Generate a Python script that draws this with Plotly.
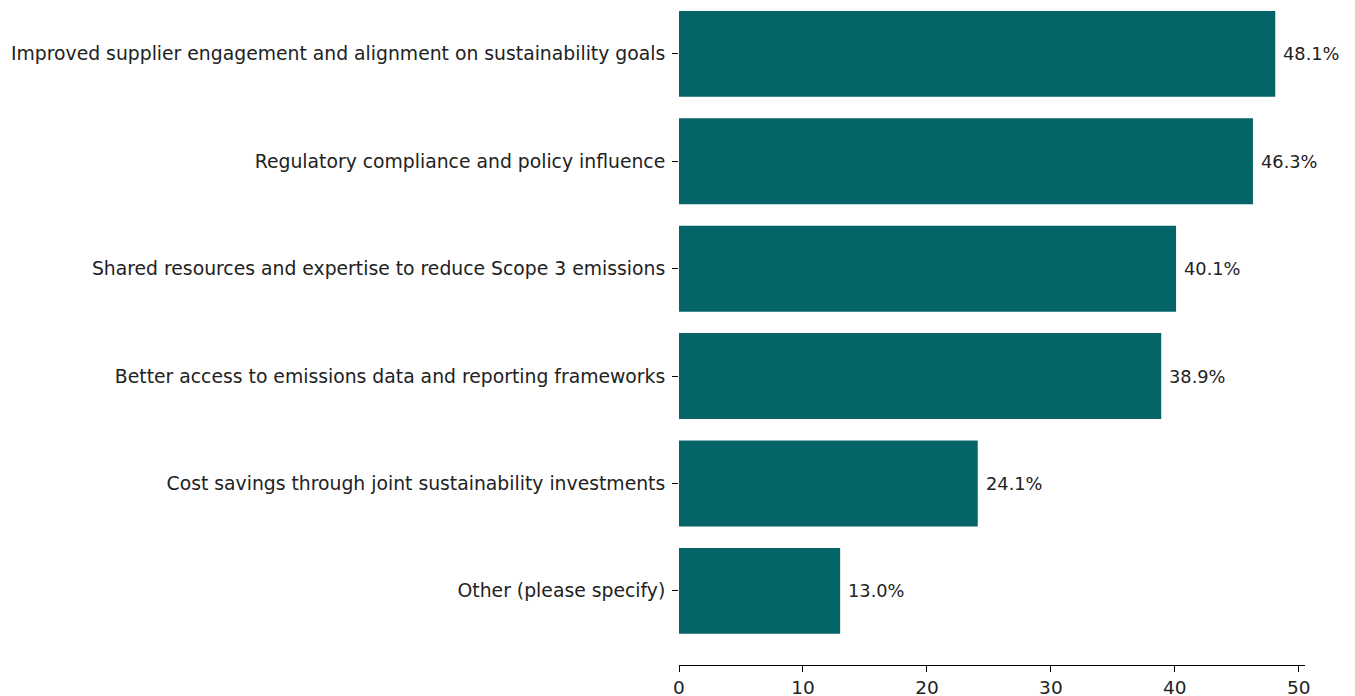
import plotly.graph_objects as go

categories = [
    "Other (please specify)",
    "Cost savings through joint sustainability investments",
    "Better access to emissions data and reporting frameworks",
    "Shared resources and expertise to reduce Scope 3 emissions",
    "Regulatory compliance and policy influence",
    "Improved supplier engagement and alignment on sustainability goals",
]
values = [13.0, 24.1, 38.9, 40.1, 46.3, 48.1]
x_ticks = [0, 10, 20, 30, 40, 50]

BAR_COLOR = "#056468"
FONT = "DejaVu Sans, Verdana, sans-serif"

fig = go.Figure()
fig.add_trace(go.Bar(
    y=list(range(len(categories))),
    x=values,
    orientation="h",
    width=0.8,
    marker=dict(color=BAR_COLOR, line=dict(width=0)),
    hoverinfo="skip",
))

for i, v in enumerate(values):
    fig.add_annotation(
        x=v, y=i, text=f"{v:.1f}%", showarrow=False,
        xanchor="left", yanchor="middle", xshift=6,
        font=dict(family=FONT, size=17.8, color="#222"),
    )

fig.update_layout(
    width=1355, height=696,
    margin=dict(l=671, r=58, t=0, b=39),
    paper_bgcolor="white", plot_bgcolor="white",
    showlegend=False,
    font=dict(family=FONT, size=18.8, color="#222"),
    xaxis=dict(
        range=[0, 50.5], tickvals=x_ticks, ticktext=[str(t) for t in x_ticks],
        showgrid=False, zeroline=False, showline=True, linecolor="black", linewidth=1.2,
        ticks="outside", ticklen=6, tickwidth=1.2, tickcolor="black",
        ticklabelstandoff=0,
        tickfont=dict(family=FONT, size=18.5, color="#222"),
        fixedrange=True, automargin=False,
    ),
    yaxis=dict(
        range=[-0.69, 5.427],
        tickvals=list(range(len(categories))), ticktext=categories,
        showgrid=False, zeroline=False, showline=False,
        ticks="outside", ticklen=6, tickwidth=1.2, tickcolor="black",
        ticklabelstandoff=3,
        tickfont=dict(family=FONT, size=18.8, color="#222"),
        fixedrange=True, automargin=False,
    ),
)

fig.write_html("out.html")
